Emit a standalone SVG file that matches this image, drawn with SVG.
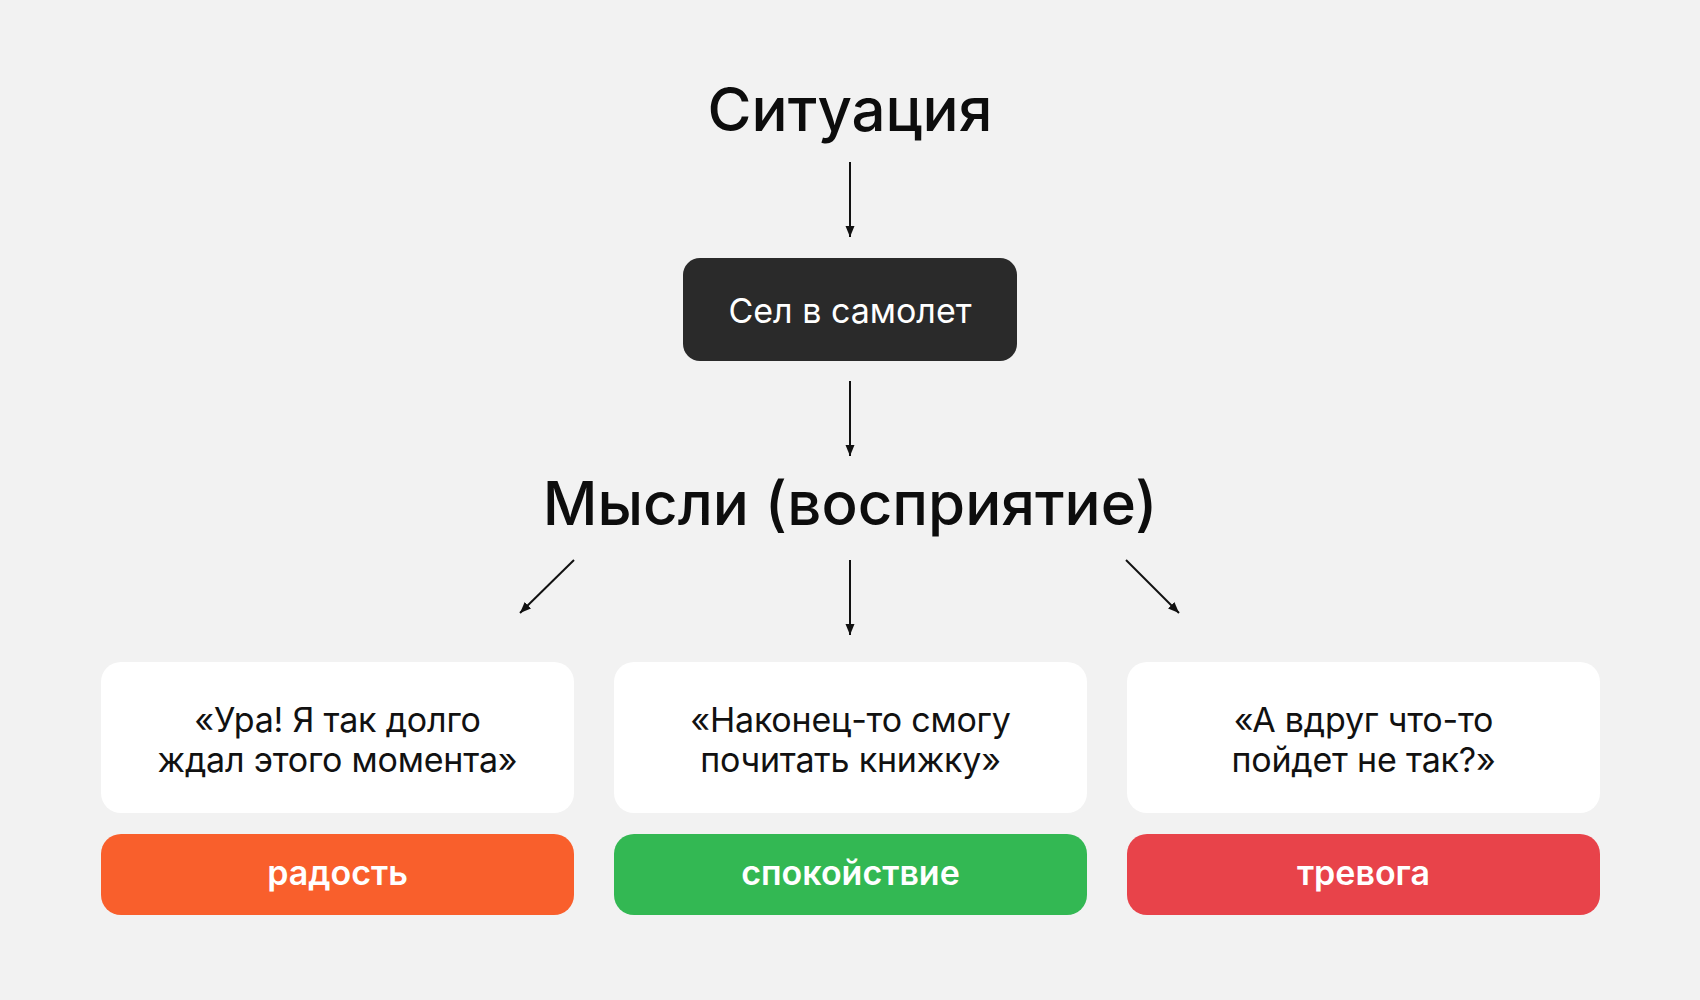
<svg xmlns="http://www.w3.org/2000/svg" width="1700" height="1000" viewBox="0 0 1700 1000">
<defs>
<marker id="ah" markerUnits="userSpaceOnUse" markerWidth="12" markerHeight="10" refX="11" refY="5" orient="auto">
<path d="M0,0.5 L11,5 L0,9.5 z" fill="#111"/>
</marker>
<style>
.bg{fill:#F2F2F2}
.title{font-family:Inter,"Noto Sans",sans-serif;font-weight:500;font-size:60px;fill:#0d0d0d;text-anchor:middle}
.quote{font-family:Inter,"Noto Sans",sans-serif;font-weight:400;font-size:34px;fill:#111;text-anchor:middle;letter-spacing:-0.2px}
.dark{font-family:Inter,"Noto Sans",sans-serif;font-weight:400;font-size:34px;fill:#fff;text-anchor:middle}
.lab{font-family:Inter,"Noto Sans",sans-serif;font-weight:600;font-size:34px;fill:#fff;text-anchor:middle}
.card{fill:#fff}
.conn line{stroke:#111;stroke-width:2;marker-end:url(#ah)}
</style>
</defs>
<rect class="bg" x="0" y="0" width="1700" height="1000"/>

<g id="situation"><text class="title" x="850" y="131">Ситуация</text></g>
<g id="plane"><rect x="683" y="258" width="334" height="103" rx="17" fill="#2A2A2A"/><text class="dark" x="850" y="323">Сел в самолет</text></g>
<g id="thoughts"><text class="title" x="850" y="525">Мысли (восприятие)</text></g>

<g id="thought1"><rect class="card" x="101" y="662" width="473" height="151" rx="20"/>
<text class="quote" x="337.5" y="732">«Ура! Я так долго</text><text class="quote" x="337.5" y="772">ждал этого момента»</text></g>
<g id="thought2"><rect class="card" x="614" y="662" width="473" height="151" rx="20"/>
<text class="quote" x="850.5" y="732">«Наконец-то смогу</text><text class="quote" x="850.5" y="772">почитать книжку»</text></g>
<g id="thought3"><rect class="card" x="1127" y="662" width="473" height="151" rx="20"/>
<text class="quote" x="1363.5" y="732">«А вдруг что-то</text><text class="quote" x="1363.5" y="772">пойдет не так?»</text></g>

<g id="joy"><rect x="101" y="834" width="473" height="81" rx="20" fill="#F95F2C"/><text class="lab" x="337.5" y="885">радость</text></g>
<g id="calm"><rect x="614" y="834" width="473" height="81" rx="20" fill="#33B853"/><text class="lab" x="850.5" y="885">спокойствие</text></g>
<g id="anxiety"><rect x="1127" y="834" width="473" height="81" rx="20" fill="#E8434A"/><text class="lab" x="1363.5" y="885">тревога</text></g>

<g class="conn" id="connectors">
<line x1="850" y1="162" x2="850" y2="237"/>
<line x1="850" y1="381" x2="850" y2="456"/>
<line x1="574" y1="560" x2="520" y2="613"/>
<line x1="850" y1="560" x2="850" y2="635"/>
<line x1="1126" y1="560" x2="1179" y2="613"/>
</g>
</svg>
